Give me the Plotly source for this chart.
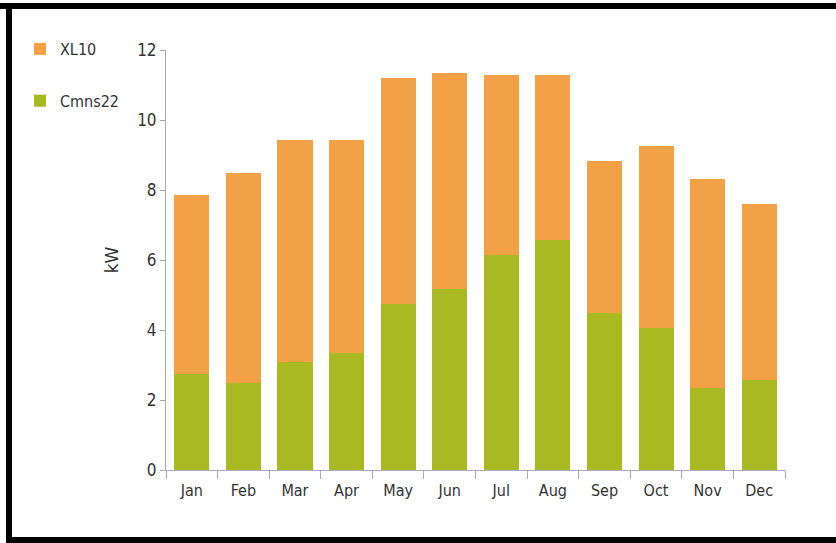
import plotly.graph_objects as go

months = ["Jan", "Feb", "Mar", "Apr", "May", "Jun", "Jul", "Aug", "Sep", "Oct", "Nov", "Dec"]
cmns22 = [2.74, 2.48, 3.09, 3.33, 4.74, 5.16, 6.14, 6.57, 4.50, 4.05, 2.35, 2.57]
xl10 = [5.12, 6.00, 6.34, 6.10, 6.45, 6.19, 5.16, 4.71, 4.33, 5.21, 5.96, 5.02]
y_ticks = [0, 2, 4, 6, 8, 10, 12]

FONT = "Liberation Sans Narrow, DejaVu Sans Condensed, Arial Narrow, sans-serif"

fig = go.Figure()
fig.add_trace(go.Bar(x=months, y=cmns22, name="Cmns22", legendgroup="b", legendrank=2,
                     marker=dict(color="#A9B922", line=dict(width=0))))
fig.add_trace(go.Bar(x=months, y=xl10, name="XL10", legendgroup="a", legendrank=1,
                     marker=dict(color="#F2A147", line=dict(width=0))))

W, H = 836, 543
L, R, T, B = 166, 51, 50, 73
pw, ph = W - L - R, H - T - B

fig.update_layout(
    width=W, height=H,
    margin=dict(l=L, r=R, t=T, b=B),
    barmode="stack",
    bargap=0.32,
    paper_bgcolor="white",
    plot_bgcolor="white",
    font=dict(family=FONT, size=16, color="#333333"),
    showlegend=True,
    legend=dict(
        x=(20 - L) / pw, xanchor="left",
        y=(H - B - 32) / ph, yanchor="top",
        traceorder="grouped",
        tracegroupgap=28,
        font=dict(family=FONT, size=16, color="#333333"),
        bgcolor="rgba(0,0,0,0)",
    ),
    xaxis=dict(
        showline=True, linecolor="#A9A9C2", linewidth=1,
        ticks="outside", tickson="boundaries", ticklen=8, tickcolor="#A9A9C2",
        ticklabelstandoff=6,
        showgrid=False, zeroline=False,
        tickfont=dict(family=FONT, size=16, color="#333333"),
    ),
    yaxis=dict(
        range=[0, 12], tickvals=y_ticks,
        showline=True, linecolor="#A9A9A9", linewidth=1,
        ticks="outside", ticklen=5, tickcolor="#A9A9A9",
        showgrid=False, zeroline=False,
        tickfont=dict(family=FONT, size=17, color="#333333"),
        title=dict(text="kW", standoff=14,
                   font=dict(family="DejaVu Sans, sans-serif", size=17, color="#333333")),
    ),
    shapes=[
        dict(type="rect", xref="paper", yref="paper",
             x0=(0 - L) / pw, x1=(W - L) / pw,
             y0=(H - B - 3) / ph, y1=(H - B - 9) / ph,
             fillcolor="black", line=dict(width=0), layer="above"),
        dict(type="rect", xref="paper", yref="paper",
             x0=(6 - L) / pw, x1=(12 - L) / pw,
             y0=(H - B - 3) / ph, y1=(H - B - 543) / ph,
             fillcolor="black", line=dict(width=0), layer="above"),
        dict(type="rect", xref="paper", yref="paper",
             x0=(6 - L) / pw, x1=(W - L) / pw,
             y0=(H - B - 537) / ph, y1=(H - B - 543) / ph,
             fillcolor="black", line=dict(width=0), layer="above"),
    ],
)

fig.write_html("out.html",
               config={"displayModeBar": False},
               post_script="document.body.style.margin='0';document.body.style.overflow='hidden';")
